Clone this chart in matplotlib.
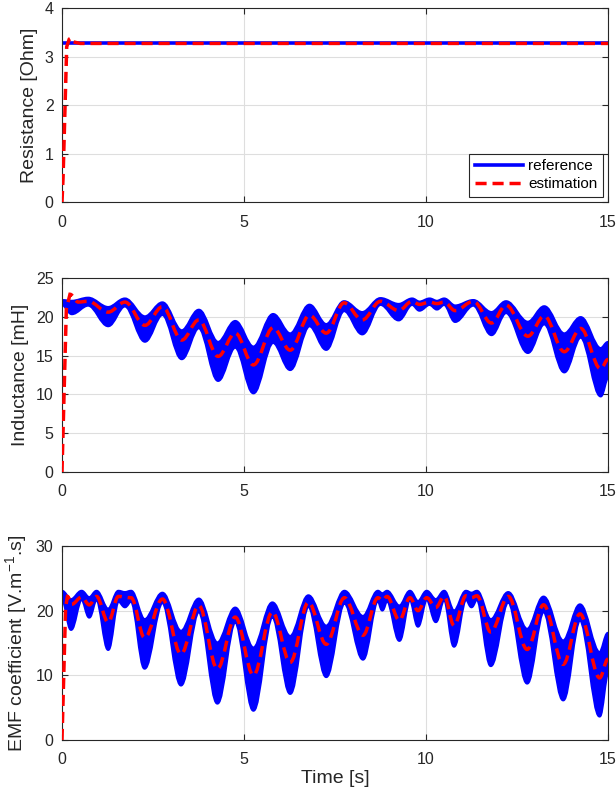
import matplotlib
matplotlib.use("Agg")
import matplotlib.pyplot as plt
from matplotlib.path import Path
from matplotlib.patches import PathPatch
from matplotlib.lines import Line2D

plt.rcParams['font.family'] = ['Liberation Sans', 'DejaVu Sans']
plt.rcParams['mathtext.fontset'] = 'custom'
plt.rcParams['mathtext.rm'] = 'Liberation Sans'
plt.rcParams['mathtext.it'] = 'Liberation Sans:italic'

# ---- Resistance (top) ----
t_R_ref = [0.0, 15.0]
R_ref = [3.27, 3.27]
t_R_est = [0.0, 0.03, 0.13, 0.2, 0.25, 0.32, 0.5, 15.0]
R_est = [0.0, 0.5, 3.2, 3.36, 3.38, 3.3, 3.27, 3.27]

# ---- Inductance (middle), envelope of the reference band at its extrema ----
t_L = [0.0, 0.27, 0.72, 1.27, 1.73, 2.28, 2.76, 3.29, 3.76, 4.29, 4.76, 5.26,
       5.8, 6.27, 6.8, 7.26, 7.75, 8.25, 8.75, 9.25, 9.62, 9.82, 10.1, 10.3,
       10.5, 10.8, 11.3, 11.8, 12.2, 12.8, 13.25, 13.8, 14.25, 14.8, 15.0]
L_upper = [22.1, 22.0, 22.4, 21.2, 22.3, 20.0, 21.8, 18.2, 20.85, 16.7, 19.4, 16.1,
           20.3, 17.8, 21.5, 19.0, 21.95, 20.55, 22.35, 21.6, 22.3, 21.9, 22.3, 22.0,
           22.3, 21.4, 22.1, 20.55, 21.95, 19.3, 21.3, 17.8, 19.9, 15.9, 16.7]
L_lower = [21.6, 20.4, 21.5, 18.85, 21.4, 16.85, 20.3, 14.6, 18.6, 11.8, 16.1, 10.2,
           16.7, 13.2, 18.85, 15.8, 20.8, 17.8, 21.6, 19.6, 21.6, 20.85, 21.6, 21.0,
           21.6, 19.4, 21.5, 17.7, 20.55, 15.4, 19.1, 12.9, 17.4, 9.8, 12.2]
t_L_est = [0.0, 0.12, 0.22, 0.45, 0.72, 1.27, 1.73, 2.28, 2.76, 3.29, 3.76, 4.29,
           4.76, 5.26, 5.8, 6.27, 6.8, 7.26, 7.75, 8.25, 8.75, 9.25, 9.62, 9.82,
           10.1, 10.3, 10.5, 10.8, 11.3, 11.8, 12.2, 12.8, 13.25, 13.8, 14.25, 14.8, 15.0]
L_est = [0.0, 21.0, 22.9, 21.9, 22.0, 20.6, 21.9, 18.9, 21.3, 17.0, 19.6, 14.9,
         17.9, 13.8, 18.6, 15.7, 20.2, 17.9, 21.8, 19.6, 22.0, 20.8, 22.0, 21.6,
         21.9, 21.7, 21.9, 20.8, 22.0, 19.2, 21.5, 17.5, 20.1, 15.5, 18.5, 13.3, 14.5]

# ---- EMF coefficient (bottom) ----
t_K = [0.0, 0.25, 0.54, 0.75, 0.95, 1.27, 1.55, 1.73, 1.9, 2.27, 2.76, 3.27,
       3.76, 4.27, 4.76, 5.26, 5.78, 6.27, 6.77, 7.26, 7.76, 8.27, 8.68, 8.8,
       8.93, 9.27, 9.56, 9.78, 10.02, 10.27, 10.5, 10.77, 11.1, 11.25, 11.4,
       11.78, 12.26, 12.78, 13.23, 13.77, 14.23, 14.77, 15.0]
K_upper = [23.0, 21.7, 23.0, 22.0, 23.0, 20.2, 23.0, 22.8, 23.0, 18.6, 22.7, 16.8,
           21.8, 15.0, 20.4, 14.2, 21.2, 16.0, 22.3, 17.6, 23.0, 19.1, 23.0, 22.6,
           23.0, 20.7, 23.0, 21.4, 23.0, 21.7, 23.0, 19.9, 23.0, 22.7, 23.0,
           18.6, 22.8, 17.1, 22.1, 15.3, 20.9, 13.5, 16.5]
K_lower = [22.0, 17.1, 21.8, 19.0, 21.8, 14.0, 21.5, 20.6, 21.5, 11.1, 21.3, 8.5,
           19.9, 5.7, 18.3, 4.6, 19.1, 7.2, 20.7, 9.8, 21.2, 12.5, 21.6, 20.1,
           21.6, 15.4, 21.8, 17.6, 21.8, 18.3, 21.8, 14.5, 21.8, 20.6, 21.8,
           11.5, 21.4, 8.8, 19.9, 6.2, 18.6, 3.7, 10.4]
t_K_est = [0.0, 0.1, 0.15, 0.27, 0.54, 0.75, 0.95, 1.27, 1.55, 1.9, 2.27, 2.76, 3.27,
           3.76, 4.27, 4.76, 5.26, 5.78, 6.27, 6.77, 7.26, 7.76, 8.27, 8.68, 8.8,
           8.93, 9.27, 9.56, 9.78, 10.02, 10.27, 10.5, 10.77, 11.1, 11.25, 11.4,
           11.78, 12.26, 12.78, 13.23, 13.77, 14.23, 14.77, 15.0]
K_est = [0.0, 20.5, 22.2, 21.0, 22.1, 20.9, 22.2, 18.2, 22.2, 22.0, 15.8, 21.8, 13.3,
         20.8, 11.0, 19.0, 10.0, 19.8, 12.0, 21.3, 14.8, 22.0, 16.2, 22.0, 21.6,
         22.2, 18.5, 22.0, 20.0, 22.0, 20.5, 22.2, 17.7, 22.3, 22.0, 22.3,
         16.7, 22.2, 14.0, 20.9, 11.7, 19.5, 9.6, 12.5]

BLUE = (0, 0, 1)
RED = (1, 0, 0)
DASH = (0, (3.2, 1.7))
GRAY = (0.15, 0.15, 0.15)


def wave(t, y, n_lin=0):
    # straight segments for the first n_lin steps, then smooth arcs between extrema
    verts = [(t[0], y[0])]
    codes = [Path.MOVETO]
    for i in range(len(t) - 1):
        if i < n_lin:
            verts.append((t[i + 1], y[i + 1]))
            codes.append(Path.LINETO)
        else:
            d = 0.36 * (t[i + 1] - t[i])
            verts += [(t[i] + d, y[i]), (t[i + 1] - d, y[i + 1]), (t[i + 1], y[i + 1])]
            codes += [Path.CURVE4] * 3
    return verts, codes


def band(ax, t, up, lo):
    vu, cu = wave(t, up)
    vl, cl = wave(t, lo)
    verts = vu + vl[::-1] + [vu[0]]
    codes = cu + [Path.LINETO] + cl[1:] + [Path.CLOSEPOLY]
    ax.add_patch(PathPatch(Path(verts, codes), facecolor=BLUE, edgecolor=BLUE,
                           lw=2.2, joinstyle='round', zorder=2))


def dashed(ax, t, y, n_lin):
    v, c = wave(t, y, n_lin)
    ax.add_patch(PathPatch(Path(v, c), fill=False, edgecolor=RED, lw=2.5,
                           linestyle=DASH, zorder=3))


def style(ax, ymax, ystep, ylabel):
    ax.set_xlim(0, 15)
    ax.set_ylim(0, ymax)
    ax.set_xticks([0, 5, 10, 15])
    ax.set_yticks(range(0, ymax + 1, ystep))
    ax.grid(True, color=(0.87, 0.87, 0.87), lw=0.8)
    ax.set_axisbelow(True)
    ax.tick_params(direction='in', top=True, right=True, length=4, width=0.8,
                   labelsize=11.5, colors=GRAY)
    ax.tick_params(axis='x', pad=9)
    ax.tick_params(axis='y', pad=6)
    for s in ax.spines.values():
        s.set_color(GRAY)
        s.set_linewidth(0.8)
    ax.set_ylabel(ylabel, fontsize=14, color=GRAY, labelpad=5)


fig = plt.figure(figsize=(6.16, 7.95), dpi=100)
ax1 = fig.add_axes([0.1006, 0.7459, 0.8864, 0.2440])
ax2 = fig.add_axes([0.1006, 0.4063, 0.8864, 0.2440])
ax3 = fig.add_axes([0.1006, 0.0692, 0.8864, 0.2440])

# Resistance
ax1.plot(t_R_ref, R_ref, color=BLUE, lw=2.6, zorder=2)
ax1.plot(t_R_est, R_est, color=RED, lw=2.5, linestyle=DASH, zorder=3)
style(ax1, 4, 1, "Resistance [Ohm]")
h_ref = Line2D([], [], color=BLUE, lw=2.6)
h_est = Line2D([], [], color=RED, lw=2.5, linestyle=DASH)
leg = ax1.legend([h_ref, h_est], ["reference", "estimation"], loc='lower right',
                 fontsize=11, handlelength=3.2, handletextpad=0.3,
                 borderaxespad=0.35, labelspacing=0.25, borderpad=0.35,
                 fancybox=False, framealpha=1)
leg.get_frame().set_edgecolor(GRAY)
leg.get_frame().set_linewidth(0.8)

# Inductance
band(ax2, t_L, L_upper, L_lower)
dashed(ax2, t_L_est, L_est, 2)
style(ax2, 25, 5, "Inductance [mH]")

# EMF coefficient
band(ax3, t_K, K_upper, K_lower)
dashed(ax3, t_K_est, K_est, 2)
style(ax3, 30, 10, "EMF coefficient [V.m$^{-1}$.s]")
ax3.set_xlabel("Time [s]", fontsize=14, color=GRAY, labelpad=2)

fig.savefig("out.png", dpi=100)
